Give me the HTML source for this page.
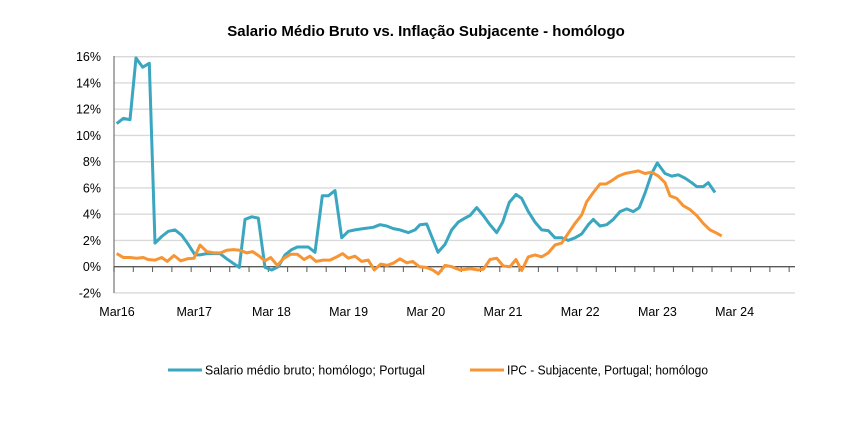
<!DOCTYPE html>
<html><head><meta charset="utf-8"><style>
body{margin:0;background:#fff;}
svg text{font-family:"Liberation Sans",Arial,sans-serif;fill:#000;}
</style></head><body>
<svg id="s" width="844" height="437" xmlns="http://www.w3.org/2000/svg">
<text x="426" y="36" font-size="15" font-weight="bold" text-anchor="middle">Salario Médio Bruto vs. Inflação Subjacente  - homólogo</text>
<g id="grid"></g>
<g id="lab" font-size="12.5"></g>
<polyline id="b" fill="none" stroke="#3aa6c0" stroke-width="3" stroke-linejoin="round"/>
<polyline id="o" fill="none" stroke="#f79433" stroke-width="3" stroke-linejoin="round"/>
<line x1="168" y1="370" x2="202" y2="370" stroke="#3aa6c0" stroke-width="3"/>
<text x="205" y="374.5" font-size="12.5" textLength="220" lengthAdjust="spacingAndGlyphs">Salario médio bruto; homólogo; Portugal</text>
<line x1="470" y1="370" x2="504" y2="370" stroke="#f79433" stroke-width="3"/>
<text x="507" y="374.5" font-size="12.5" textLength="201" lengthAdjust="spacingAndGlyphs">IPC - Subjacente, Portugal; homólogo</text>
</svg>
<script>
var Y=function(v){return 266.7-v*13.125;};
var g='',l='';
for(var v=16;v>=-2;v-=2){var y=Y(v);
 if(v!=0)g+='<line x1="114" y1="'+y+'" x2="795" y2="'+y+'" stroke="#d9d9d9" stroke-width="1.3"/>';
 l+='<text x="101" y="'+(y+4.5)+'" text-anchor="end">'+v+'%</text>';}
g+='<line x1="114" y1="56" x2="114" y2="293" stroke="#7f7f7f" stroke-width="1.3"/>';
g+='<line x1="114" y1="266.7" x2="795" y2="266.7" stroke="#595959" stroke-width="1.3"/>';
for(var i=0;i<=35;i++){var x=114+i*19.29;g+='<line x1="'+x+'" y1="266.7" x2="'+x+'" y2="272" stroke="#595959" stroke-width="1"/>';}
var xl=["Mar16","Mar17","Mar 18","Mar 19","Mar 20","Mar 21","Mar 22","Mar 23","Mar 24"];
for(var i=0;i<9;i++)l+='<text x="'+(117+i*77.2)+'" y="316" text-anchor="middle">'+xl[i]+'</text>';
document.getElementById('grid').innerHTML=g;document.getElementById('lab').innerHTML=l;
var b=[116.7,10.9,123.3,11.3,130,11.2,136,15.9,142.7,15.2,149.3,15.5,155,1.8,161.7,2.3,168.3,2.7,175,2.8,181.7,2.4,188.3,1.7,195,0.9,200,0.9,206.7,1.0,220,1.0,226.7,0.6,233.3,0.25,239.3,-0.05,245,3.6,251.7,3.8,258.3,3.7,265,-0.05,271.7,-0.25,278.3,0,285,0.9,291.7,1.3,297.3,1.5,308.3,1.5,315,1.1,322.3,5.4,328.3,5.4,335,5.8,341.7,2.2,348.3,2.7,355,2.8,363.3,2.9,373.3,3.0,380,3.2,386.7,3.1,393.3,2.9,400,2.8,408.3,2.6,415,2.8,420,3.2,426.7,3.25,438,1.1,445,1.7,451.7,2.8,458.3,3.4,465,3.7,470,3.9,476.7,4.5,483.3,3.9,490,3.2,496.7,2.6,502.7,3.4,509.3,4.9,516,5.5,521.7,5.2,528.3,4.2,535,3.4,541.7,2.8,548.3,2.75,555,2.2,561.7,2.2,568.3,2.0,575,2.2,581.7,2.5,588.3,3.2,593.3,3.6,600,3.1,606.7,3.2,613.3,3.6,620,4.2,626.7,4.4,633.3,4.2,639.3,4.5,645,5.6,651.7,7.1,657.3,7.9,665,7.1,671.7,6.9,678.3,7.0,685,6.75,691.7,6.4,696.7,6.1,703.3,6.1,708.3,6.4,715,5.65];
var o=[116.7,1.0,123.3,0.7,130,0.7,136.7,0.65,143.3,0.7,148,0.55,155,0.5,161.7,0.7,167.3,0.4,174,0.85,180.7,0.45,187.3,0.6,194,0.65,200,1.65,206.7,1.15,214,1.05,220.7,1.05,226.7,1.25,233.3,1.3,240,1.25,246.7,1.05,252.7,1.15,259.3,0.8,265,0.45,270.7,0.7,277.3,0.1,284,0.65,290.7,0.95,297.3,0.95,304,0.55,310,0.8,316,0.4,323.3,0.5,330,0.5,336.7,0.75,342.7,1.0,348.3,0.65,355,0.8,361.7,0.4,368.3,0.5,374.3,-0.25,380.7,0.2,387.3,0.1,394,0.3,400,0.6,406.7,0.3,412.7,0.4,419.3,0,426,-0.05,432.7,-0.25,438.3,-0.55,445,0.1,451.7,0,460,-0.25,470,-0.15,478.3,-0.25,483.3,-0.2,490,0.55,496.7,0.65,503.3,0.05,510,0,516,0.55,521.7,-0.3,528.3,0.75,535,0.9,541.7,0.75,548.3,1.05,555,1.65,561.7,1.8,568.3,2.55,575,3.3,581.7,3.95,586.7,4.95,593.3,5.65,600,6.3,606,6.3,611.7,6.55,618.3,6.9,625,7.1,631.7,7.2,638.3,7.3,645,7.1,651.7,7.2,658.3,6.9,665,6.4,670,5.4,676.7,5.2,683.3,4.65,690,4.35,696.7,3.9,703.3,3.3,710,2.8,716.7,2.55,721.7,2.35];
function pts(a){var s='';for(var i=0;i<a.length;i+=2)s+=a[i]+','+Y(a[i+1]).toFixed(1)+' ';return s;}
document.getElementById('b').setAttribute('points',pts(b));
document.getElementById('o').setAttribute('points',pts(o));
</script>
</body></html>
